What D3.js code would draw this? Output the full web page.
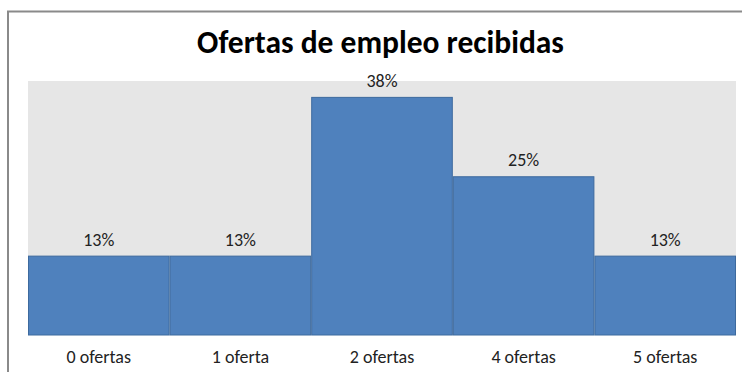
<!DOCTYPE html>
<html>
<head>
<meta charset="utf-8">
<script src="https://cdn.jsdelivr.net/npm/d3@7"></script>
<style>
  html, body { margin: 0; padding: 0; background: #fff; }
  svg { display: block; }
</style>
</head>
<body>
<svg id="chart" width="742" height="372"></svg>
<script>
// Job offers received: share of respondents per number of offers
const title = "Ofertas de empleo recibidas";
const categories = ["0 ofertas", "1 oferta", "2 ofertas", "4 ofertas", "5 ofertas"];
const shares = [0.125, 0.125, 0.375, 0.25, 0.125];
const yDomain = [0, 0.4];

const W = 742, H = 372;
const plot = { left: 28, right: 736, top: 81, bottom: 335 };
const fontFamily = "Carlito, Calibri, Lato, 'Open Sans', sans-serif";

const svg = d3.select("#chart");

// outer chart frame
svg.append("rect")
  .attr("x", 8).attr("y", 11.5)
  .attr("width", W + 10).attr("height", H + 10)
  .attr("fill", "#fff")
  .attr("stroke", "#8a8a8a").attr("stroke-width", 2);

// plot background
svg.append("rect")
  .attr("x", plot.left).attr("y", plot.top)
  .attr("width", plot.right - plot.left).attr("height", plot.bottom - plot.top)
  .attr("fill", "#e6e6e6");

const x = d3.scaleBand()
  .domain(categories)
  .range([plot.left, plot.right])
  .paddingInner(0).paddingOuter(0);

const y = d3.scaleLinear().domain(yDomain).range([plot.bottom, plot.top]);

const data = categories.map((c, i) => ({ c, v: shares[i] }));

svg.append("g").selectAll("rect")
  .data(data)
  .join("rect")
  .attr("x", d => x(d.c) + 0.5)
  .attr("y", d => y(d.v) + 0.5)
  .attr("width", x.bandwidth() - 1)
  .attr("height", d => y(0) - y(d.v) - 0.5)
  .attr("fill", "#4f81bd")
  .attr("stroke", "#3d6a9e")
  .attr("stroke-width", 1);

// value labels
const pct = d3.format(".0%");
svg.append("g").selectAll("text")
  .data(data)
  .join("text")
  .attr("x", d => x(d.c) + x.bandwidth() / 2)
  .attr("y", d => y(d.v) - 10)
  .attr("text-anchor", "middle")
  .attr("font-family", fontFamily)
  .attr("font-size", 18)
  .attr("fill", "#222")
  .text(d => pct(d.v));

// category axis (labels only)
const xAxis = svg.append("g")
  .attr("transform", `translate(0,${plot.bottom})`)
  .call(d3.axisBottom(x).tickSize(0).tickPadding(15));
xAxis.select(".domain").remove();
xAxis.selectAll("text")
  .attr("font-family", fontFamily)
  .attr("font-size", 18)
  .attr("fill", "#222");

// title
svg.append("text")
  .attr("x", 380.5).attr("y", 53)
  .attr("text-anchor", "middle")
  .attr("font-family", fontFamily)
  .attr("font-weight", "bold")
  .attr("font-size", 31.5)
  .attr("fill", "#000")
  .text(title);
</script>
</body>
</html>
